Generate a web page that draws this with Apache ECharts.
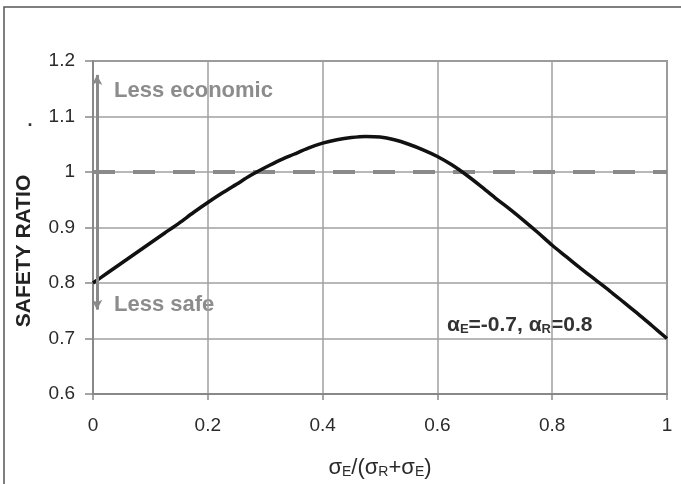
<!DOCTYPE html>
<html>
<head>
<meta charset="utf-8">
<script src="https://cdn.jsdelivr.net/npm/echarts@6/dist/echarts.min.js"></script>
<style>
html,body{margin:0;padding:0;background:#fff;}
#c{width:681px;height:484px;}
</style>
</head>
<body>
<div id="c"></div>
<script>
const xValues = [0, 0.025, 0.05, 0.075, 0.1, 0.125, 0.15, 0.175, 0.2, 0.225, 0.25, 0.275, 0.3, 0.325, 0.35, 0.375, 0.4, 0.425, 0.45, 0.475, 0.5,
                 0.525, 0.55, 0.575, 0.6, 0.625, 0.65, 0.675, 0.7, 0.725, 0.75, 0.775, 0.8, 0.825, 0.85, 0.875, 0.9, 0.925, 0.95, 0.975, 1];
const safetyRatio = [0.800, 0.818, 0.836, 0.854, 0.872, 0.890, 0.908, 0.927, 0.945, 0.962, 0.978, 0.994, 1.008, 1.021, 1.032, 1.043, 1.052, 1.058, 1.062, 1.064, 1.063,
                     1.058, 1.050, 1.040, 1.028, 1.013, 0.995, 0.975, 0.954, 0.934, 0.913, 0.891, 0.868, 0.847, 0.826, 0.806, 0.786, 0.765, 0.744, 0.722, 0.700];
const referenceLine = [[0, 1], [1, 1]];
const arrowEnds = [[0.007, 1.175], [0.007, 0.752]];
const xTicks = { min: 0, max: 1, interval: 0.2 };
const yTicks = { min: 0.6, max: 1.2, interval: 0.1 };

const FONT = "'Liberation Sans', Arial, sans-serif";
const chart = echarts.init(document.getElementById('c'), null, { renderer: 'canvas' });

chart.setOption({
  backgroundColor: '#fff',
  animation: false,
  grid: { left: 93, right: 14, top: 61, bottom: 87, show: true, borderColor: '#8a8a8a', borderWidth: 2, backgroundColor: 'transparent' },
  xAxis: {
    type: 'value', min: xTicks.min, max: xTicks.max, interval: xTicks.interval,
    axisLine: { show: true, onZero: false, lineStyle: { color: '#888', width: 2 } },
    axisTick: { show: true, length: 6, lineStyle: { color: '#888', width: 1.5 } },
    splitLine: { show: true, lineStyle: { color: '#a0a0a0', width: 1.5 } },
    axisLabel: { color: '#2a2a2a', fontSize: 19, fontFamily: FONT, margin: 22 },
    name: '{s|σ}{sub|E}{s|/(σ}{sub|R}{s|+σ}{sub|E}{s|)}',
    nameLocation: 'middle', nameGap: 62,
    nameTextStyle: {
      rich: {
        s: { fontSize: 22, fontFamily: FONT, color: '#2a2a2a' },
        sub: { fontSize: 14, fontFamily: FONT, color: '#2a2a2a', verticalAlign: 'bottom', padding: [9, 0, 0, 0] }
      }
    }
  },
  yAxis: {
    type: 'value', min: yTicks.min, max: yTicks.max, interval: yTicks.interval,
    axisLine: { show: true, lineStyle: { color: '#888', width: 2 } },
    axisTick: { show: true, length: 8, lineStyle: { color: '#888', width: 1.5 } },
    splitLine: { show: true, lineStyle: { color: '#a0a0a0', width: 1.5 } },
    axisLabel: { color: '#2a2a2a', fontSize: 19, fontFamily: FONT, margin: 18 }
  },
  series: [
    {
      type: 'line', data: referenceLine, symbol: 'none', silent: true,
      lineStyle: { color: '#8a8a8a', width: 4, type: [22, 18] }, z: 2
    },
    {
      type: 'line', data: [], symbol: 'none', silent: true,
      markLine: {
        silent: true, symbol: ['arrow', 'arrow'], symbolSize: [8, 10],
        label: { show: false },
        lineStyle: { color: '#8a8a8a', width: 3, type: 'solid' },
        data: [[{ coord: arrowEnds[0] }, { coord: arrowEnds[1] }]]
      }, z: 3
    },
    {
      type: 'line', data: xValues.map((x, i) => [x, safetyRatio[i]]), smooth: 0.3, symbol: 'none',
      lineStyle: { color: '#111', width: 3.5 }, z: 4
    }
  ],
  graphic: [
    { type: 'rect', shape: { x: 4, y: 7, width: 720, height: 520 }, style: { fill: 'none', stroke: '#555', lineWidth: 1.5 }, silent: true },
    { type: 'text', x: 24, y: 251, rotation: Math.PI / 2,
      style: { text: 'SAFETY RATIO', fill: '#222', font: 'bold 21px ' + FONT, textAlign: 'center', textVerticalAlign: 'middle', align: 'center', verticalAlign: 'middle' } },
    { type: 'text', x: 114, y: 91, style: { text: 'Less economic', fill: '#8c8c8c', font: 'bold 22px ' + FONT, verticalAlign: 'middle', textVerticalAlign: 'middle' } },
    { type: 'text', x: 114, y: 305, style: { text: 'Less safe', fill: '#8c8c8c', font: 'bold 22px ' + FONT, verticalAlign: 'middle', textVerticalAlign: 'middle' } },
    { type: 'text', x: 30, y: 130, style: { text: '.', fill: '#333', font: 'bold 18px ' + FONT, align: 'center', verticalAlign: 'bottom' } },
    {
      type: 'text', x: 447, y: 325,
      style: {
        text: '{a|α}{b|E}{a|=-0.7, α}{b|R}{a|=0.8}',
        verticalAlign: 'middle', textVerticalAlign: 'middle',
        rich: {
          a: { font: 'bold 21px ' + FONT, fill: '#333' },
          b: { font: 'bold 13px ' + FONT, fill: '#333', verticalAlign: 'bottom', padding: [9, 0, 0, 0] }
        }
      }
    }
  ]
});
</script>
</body>
</html>
